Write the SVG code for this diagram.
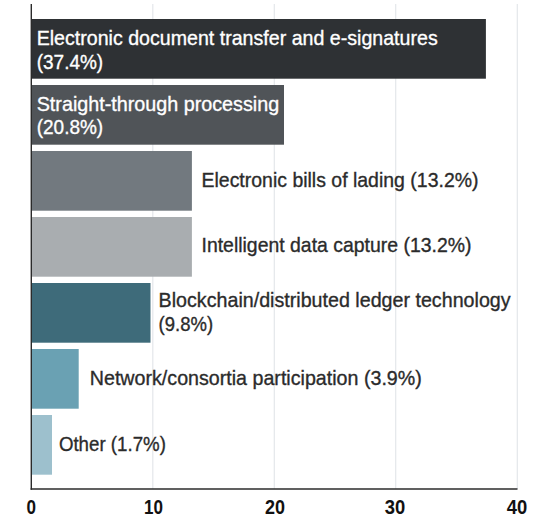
<svg xmlns="http://www.w3.org/2000/svg" width="552" height="518" viewBox="0 0 552 518">
<style>
.grid{stroke:#e4e7ea;stroke-width:1.2}
.axis{stroke:#2b2b2b;stroke-width:1.4}
text{font-family:"Liberation Sans",Arial,sans-serif;font-size:21px;stroke-width:0.35}
.in{fill:#ffffff;stroke:#ffffff}
.out{fill:#2b2b2b;stroke:#2b2b2b}
.tick{fill:#111111;text-anchor:middle;font-size:19.5px;font-weight:bold;stroke:none}
</style>
<rect width="552" height="518" fill="#ffffff"/>
<g id="grid">
<line class="grid" x1="152.8" y1="4" x2="152.8" y2="489"/>
<line class="grid" x1="274.3" y1="4" x2="274.3" y2="489"/>
<line class="grid" x1="395.7" y1="4" x2="395.7" y2="489"/>
<line class="grid" x1="517.3" y1="4" x2="517.3" y2="489"/>
</g>
<g id="bar1">
<rect x="31" y="19" width="454.9" height="59.7" fill="#2e3134"/>
<text class="in" x="36.7" y="44.8" textLength="401" lengthAdjust="spacingAndGlyphs">Electronic document transfer and e-signatures</text>
<text class="in" x="36.7" y="68.5" textLength="66.5" lengthAdjust="spacingAndGlyphs">(37.4%)</text>
</g>
<g id="bar2">
<rect x="31" y="85" width="253" height="59.7" fill="#505458"/>
<text class="in" x="36.7" y="110.7" textLength="242.5" lengthAdjust="spacingAndGlyphs">Straight-through processing</text>
<text class="in" x="36.7" y="134" textLength="66.5" lengthAdjust="spacingAndGlyphs">(20.8%)</text>
</g>
<g id="bar3">
<rect x="31" y="151" width="160.9" height="59.7" fill="#72797f"/>
<text class="out" x="201.5" y="186.7" textLength="277" lengthAdjust="spacingAndGlyphs">Electronic bills of lading (13.2%)</text>
</g>
<g id="bar4">
<rect x="31" y="217" width="160.9" height="59.7" fill="#a9adb0"/>
<text class="out" x="201.5" y="252.3" textLength="270" lengthAdjust="spacingAndGlyphs">Intelligent data capture (13.2%)</text>
</g>
<g id="bar5">
<rect x="31" y="283" width="119.5" height="59.7" fill="#3e6b7a"/>
<text class="out" x="158.6" y="307.3" textLength="352" lengthAdjust="spacingAndGlyphs">Blockchain/distributed ledger technology</text>
<text class="out" x="158.6" y="330.5" textLength="54.5" lengthAdjust="spacingAndGlyphs">(9.8%)</text>
</g>
<g id="bar6">
<rect x="31" y="349" width="47.7" height="59.7" fill="#6aa1b3"/>
<text class="out" x="89.8" y="385" textLength="332" lengthAdjust="spacingAndGlyphs">Network/consortia participation (3.9%)</text>
</g>
<g id="bar7">
<rect x="31" y="415" width="21" height="59.7" fill="#9dc0cd"/>
<text class="out" x="58.9" y="450.7" textLength="107" lengthAdjust="spacingAndGlyphs">Other (1.7%)</text>
</g>
<g id="axes">
<line class="axis" x1="31.3" y1="4" x2="31.3" y2="489.7"/>
<line class="axis" x1="30.6" y1="489" x2="517.5" y2="489"/>
<text class="tick" x="31.3" y="514" textLength="9.5" lengthAdjust="spacingAndGlyphs">0</text>
<text class="tick" x="153.5" y="514" textLength="19" lengthAdjust="spacingAndGlyphs">10</text>
<text class="tick" x="274.9" y="514" textLength="20" lengthAdjust="spacingAndGlyphs">20</text>
<text class="tick" x="395" y="514" textLength="20.5" lengthAdjust="spacingAndGlyphs">30</text>
<text class="tick" x="517" y="514" textLength="20.5" lengthAdjust="spacingAndGlyphs">40</text>
</g>
</svg>
